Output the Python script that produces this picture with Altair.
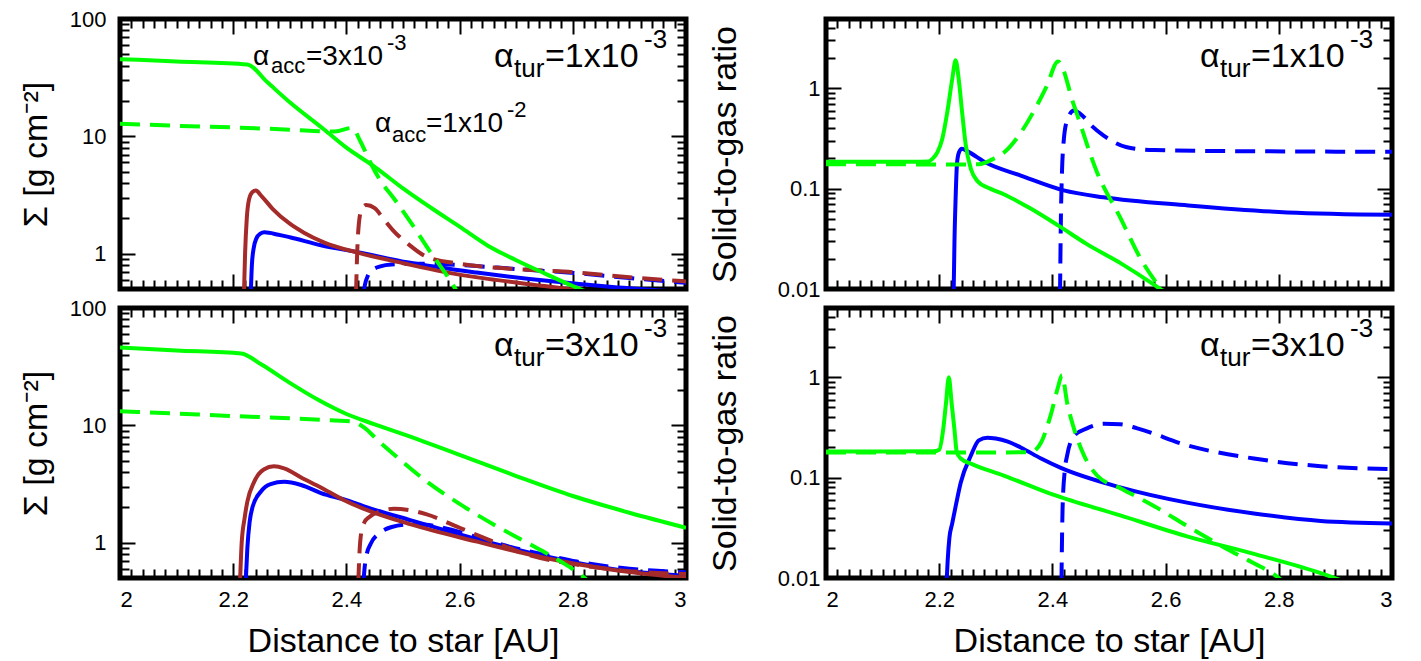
import altair as alt
import pandas as pd

# ---------------- data ----------------
# top-left: surface density, alpha_tur = 1e-3
tl_gas3_x = [2.0, 2.1, 2.225, 2.26, 2.30, 2.36, 2.40, 2.45, 2.50, 2.55, 2.60, 2.65, 2.70, 2.75, 2.80, 2.83]
tl_gas3_y = [45.5, 43.5, 41.0, 29.0, 19.5, 11.5, 8.0, 5.5, 3.6, 2.45, 1.7, 1.17, 0.88, 0.68, 0.53, 0.46]
tl_gas1_x = [2.0, 2.1, 2.2, 2.3, 2.38, 2.41, 2.425, 2.443, 2.46, 2.484, 2.514, 2.549, 2.575, 2.595]
tl_gas1_y = [12.8, 12.3, 11.9, 11.4, 11.0, 11.8, 9.0, 5.9, 4.2, 2.95, 1.84, 1.02, 0.68, 0.48]
tl_brown3_x = [2.219, 2.221, 2.224, 2.228, 2.234, 2.240, 2.25, 2.27, 2.30, 2.325, 2.36, 2.42, 2.50, 2.572, 2.65, 2.75, 2.82]
tl_brown3_y = [0.45, 1.0, 2.0, 2.9, 3.35, 3.45, 3.1, 2.4, 1.8, 1.51, 1.25, 1.02, 0.83, 0.70, 0.61, 0.53, 0.48]
tl_blue3_x = [2.231, 2.233, 2.236, 2.241, 2.248, 2.255, 2.28, 2.30, 2.355, 2.42, 2.51, 2.63, 2.75, 2.87, 3.0]
tl_blue3_y = [0.45, 0.8, 1.1, 1.35, 1.48, 1.52, 1.45, 1.38, 1.18, 1.03, 0.84, 0.69, 0.59, 0.52, 0.47]
tl_brown1_x = [2.417, 2.419, 2.422, 2.427, 2.435, 2.45, 2.465, 2.484, 2.51, 2.54, 2.60, 2.69, 2.81, 2.90, 3.0]
tl_brown1_y = [0.45, 1.0, 1.8, 2.4, 2.6, 2.45, 2.0, 1.55, 1.2, 0.95, 0.82, 0.745, 0.69, 0.63, 0.58]
tl_blue1_x = [2.430, 2.433, 2.438, 2.445, 2.46, 2.48, 2.53, 2.60, 2.70, 2.81, 2.90, 3.0]
tl_blue1_y = [0.45, 0.55, 0.65, 0.72, 0.78, 0.81, 0.82, 0.80, 0.74, 0.68, 0.62, 0.565]

# top-right: solid-to-gas ratio, alpha_tur = 1e-3
tr_green3_x = [2.0, 2.1, 2.18, 2.188, 2.197, 2.2055, 2.2143, 2.2232, 2.229, 2.235, 2.241, 2.247, 2.256, 2.267, 2.29, 2.314, 2.36, 2.41, 2.461, 2.521, 2.58, 2.60]
tr_green3_y = [0.185, 0.185, 0.186, 0.198, 0.231, 0.314, 0.579, 1.25, 1.9, 1.16, 0.54, 0.27, 0.157, 0.12, 0.1, 0.088, 0.064, 0.043, 0.028, 0.018, 0.011, 0.0092]
tr_blue3_x = [2.2255, 2.227, 2.229, 2.2315, 2.235, 2.24, 2.25, 2.284, 2.344, 2.42, 2.49, 2.64, 2.815, 3.0]
tr_blue3_y = [0.009, 0.03, 0.08, 0.18, 0.23, 0.25, 0.235, 0.18, 0.135, 0.096, 0.082, 0.068, 0.058, 0.055]
tr_green1_x = [2.0, 2.1, 2.2, 2.27, 2.297, 2.315, 2.344, 2.373, 2.39, 2.41, 2.438, 2.479, 2.521, 2.556, 2.595]
tr_green1_y = [0.175, 0.175, 0.174, 0.175, 0.2, 0.23, 0.36, 0.68, 1.05, 1.85, 0.68, 0.145, 0.05, 0.02, 0.0095]
tr_blue1_x = [2.4135, 2.415, 2.417, 2.42, 2.426, 2.438, 2.455, 2.47, 2.49, 2.53, 2.58, 2.7, 3.0]
tr_blue1_y = [0.009, 0.05, 0.15, 0.3, 0.48, 0.6, 0.52, 0.42, 0.34, 0.26, 0.242, 0.237, 0.233]

# bottom-left: surface density, alpha_tur = 3e-3
bl_gas3_x = [2.0, 2.1, 2.214, 2.25, 2.30, 2.35, 2.40, 2.45, 2.50, 2.60, 2.70, 2.80, 2.90, 3.0]
bl_gas3_y = [46.0, 43.5, 41.0, 33.0, 23.0, 16.5, 12.5, 10.2, 8.4, 5.6, 3.7, 2.5, 1.8, 1.34]
bl_gas1_x = [2.0, 2.1, 2.2, 2.3, 2.38, 2.41, 2.431, 2.455, 2.484, 2.542, 2.602, 2.66, 2.719, 2.779, 2.81, 2.83]
bl_gas1_y = [13.2, 12.6, 12.0, 11.5, 11.0, 10.8, 9.6, 7.5, 5.65, 3.32, 2.11, 1.43, 1.0, 0.69, 0.55, 0.46]
bl_brown3_x = [2.212, 2.215, 2.22, 2.225, 2.237, 2.254, 2.272, 2.29, 2.32, 2.355, 2.396, 2.43, 2.514, 2.631, 2.749, 2.867, 3.0]
bl_brown3_y = [0.45, 1.0, 1.6, 2.24, 3.3, 4.2, 4.47, 4.3, 3.6, 2.95, 2.3, 1.95, 1.43, 1.02, 0.745, 0.59, 0.50]
bl_blue3_x = [2.222, 2.225, 2.229, 2.234, 2.249, 2.266, 2.29, 2.32, 2.355, 2.40, 2.43, 2.514, 2.631, 2.749, 2.867, 3.0]
bl_blue3_y = [0.45, 0.9, 1.5, 2.0, 2.73, 3.15, 3.3, 3.1, 2.65, 2.3, 2.05, 1.55, 1.07, 0.77, 0.6, 0.52]
bl_brown1_x = [2.421, 2.423, 2.426, 2.432, 2.44, 2.46, 2.484, 2.51, 2.542, 2.6, 2.66, 2.72, 2.807, 2.925, 3.0]
bl_brown1_y = [0.45, 0.8, 1.2, 1.5, 1.65, 1.85, 1.95, 1.9, 1.74, 1.34, 1.02, 0.79, 0.65, 0.56, 0.54]
bl_blue1_x = [2.43, 2.432, 2.436, 2.443, 2.46, 2.48, 2.51, 2.54, 2.57, 2.63, 2.69, 2.75, 2.807, 2.9, 3.0]
bl_blue1_y = [0.45, 0.6, 0.8, 0.98, 1.22, 1.36, 1.43, 1.42, 1.34, 1.12, 0.92, 0.79, 0.69, 0.6, 0.56]

# bottom-right: solid-to-gas ratio, alpha_tur = 3e-3
br_green3_x = [2.0, 2.1, 2.19, 2.2, 2.207, 2.212, 2.217, 2.222, 2.227, 2.231, 2.238, 2.26, 2.314, 2.40, 2.52, 2.638, 2.756, 2.874, 2.91]
br_green3_y = [0.182, 0.182, 0.183, 0.19, 0.3, 0.55, 1.0, 0.55, 0.3, 0.18, 0.155, 0.135, 0.105, 0.068, 0.042, 0.026, 0.0174, 0.0112, 0.0095]
br_blue3_x = [2.213, 2.215, 2.218, 2.223, 2.23, 2.238, 2.256, 2.27, 2.285, 2.30, 2.32, 2.344, 2.38, 2.415, 2.52, 2.64, 2.756, 2.874, 3.0]
br_blue3_y = [0.009, 0.015, 0.025, 0.035, 0.055, 0.089, 0.166, 0.235, 0.25, 0.245, 0.23, 0.2, 0.155, 0.125, 0.08, 0.056, 0.044, 0.037, 0.035]
br_green1_x = [2.0, 2.1, 2.2, 2.3, 2.362, 2.38, 2.397, 2.41, 2.417, 2.426, 2.438, 2.456, 2.479, 2.521, 2.58, 2.638, 2.698, 2.756, 2.79, 2.805]
br_green1_y = [0.178, 0.178, 0.178, 0.178, 0.18, 0.224, 0.42, 0.8, 1.05, 0.56, 0.31, 0.166, 0.105, 0.078, 0.052, 0.033, 0.021, 0.014, 0.011, 0.0095]
br_blue1_x = [2.416, 2.418, 2.422, 2.426, 2.438, 2.461, 2.491, 2.52, 2.55, 2.638, 2.756, 2.874, 3.0]
br_blue1_y = [0.009, 0.05, 0.12, 0.166, 0.26, 0.31, 0.345, 0.34, 0.31, 0.21, 0.155, 0.13, 0.122]

# axis ticks
x_ticks = [round(2 + 0.02 * i, 2) for i in range(51)]
sigma_ticks = [0.5, 0.6, 0.7, 0.8, 0.9, 1, 2, 3, 4, 5, 6, 7, 8, 9,
               10, 20, 30, 40, 50, 60, 70, 80, 90, 100]
ratio_ticks = [0.01, 0.02, 0.03, 0.04, 0.05, 0.06, 0.07, 0.08, 0.09,
               0.1, 0.2, 0.3, 0.4, 0.5, 0.6, 0.7, 0.8, 0.9, 1, 2, 3, 4]
sigma_domain = [0.5, 100]
ratio_domain = [0.01, 4.9]

# texts
x_title = "Distance to star [AU]"
sigma_title = "Σ [g cm⁻²]"
ratio_title = "Solid-to-gas ratio"
ann_acc3 = ["α", "acc", "=3x10", "-3"]
ann_acc1 = ["α", "acc", "=1x10", "-2"]
ann_tur1 = ["α", "tur", "=1x10", "-3"]
ann_tur3 = ["α", "tur", "=3x10", "-3"]

# ---------------- styling ----------------
FONT = "Liberation Sans"
W, H = 566, 270
MAJ, MIN = 15, 9
GREEN, BLUE, BROWN = "#00ff00", "#0000ff", "#a52a2a"
DASH = [20, 10]
LW = 4

X_MAJOR_TEST = "abs(datum.value*5 - round(datum.value*5)) < 0.001"
LOG_MAJOR_TEST = "abs(log(datum.value)/LN10 - round(log(datum.value)/LN10)) < 0.001"


def dash(test, length):
    return {"condition": {"test": test, "value": [MAJ, length - 2 * MAJ, MAJ]},
            "value": [MIN, length - 2 * MIN, MIN]}


def make_axis_x(show):
    kw = dict(values=x_ticks, grid=True, ticks=False, domain=False,
              gridColor="black", gridWidth=2, gridOpacity=1,
              gridDash=dash(X_MAJOR_TEST, H))
    if show:
        kw.update(labels=True, title=x_title,
                  labelExpr="(" + X_MAJOR_TEST + ") ? '' + datum.value : ''",
                  labelPadding=11, titlePadding=14)
    else:
        kw.update(labels=False, title="")
    return alt.Axis(**kw)


def make_axis_y(ticks, title, lab_pad, title_pad):
    return alt.Axis(values=ticks, grid=True, ticks=False, domain=False,
                    gridColor="black", gridWidth=2, gridOpacity=1,
                    gridDash=dash(LOG_MAJOR_TEST, W),
                    labelExpr="(" + LOG_MAJOR_TEST + ") ? '' + datum.value : ''",
                    labelPadding=lab_pad, title=title, titlePadding=title_pad)


def annotation(parts, x0, base, main_fs, sub_fs, offs):
    (xa, xs, xm, xp), dsub, dsup = offs
    layers = []
    specs = [(parts[0], xa, base, main_fs), (parts[1], xs, base + dsub, sub_fs),
             (parts[2], xm, base, main_fs), (parts[3], xp, base + dsup, sub_fs)]
    for txt, px, py, fs in specs:
        layers.append(
            alt.Chart(pd.DataFrame({"t": [txt]}))
            .mark_text(align="left", baseline="alphabetic", font=FONT,
                       fontSize=fs, color="black")
            .encode(x=alt.value(x0 + px), y=alt.value(py), text="t:N")
        )
    return layers


def panel(series, ydomain, yticks, ytitle, show_x, lab_pad, title_pad, anns):
    xenc = alt.X("x:Q", scale=alt.Scale(domain=[2, 3], nice=False, zero=False),
                 axis=make_axis_x(show_x))
    yenc = alt.Y("y:Q", scale=alt.Scale(type="log", domain=ydomain, nice=False),
                 axis=make_axis_y(yticks, ytitle, lab_pad, title_pad))
    layers = []
    for xs, ys, color, dashed in series:
        kw = dict(color=color, strokeWidth=LW, clip=True, interpolate="monotone")
        if dashed:
            kw["strokeDash"] = DASH
        layers.append(
            alt.Chart(pd.DataFrame({"x": xs, "y": ys})).mark_line(**kw)
            .encode(x=xenc, y=yenc)
        )
    for a in anns:
        layers += a
    return alt.layer(*layers).properties(width=W, height=H)


TUR = lambda parts: annotation(parts, 374, 48, 34, 26, ((0, 20, 51, 150), 10, -19))

tl = panel([
    (tl_blue3_x, tl_blue3_y, BLUE, False),
    (tl_blue1_x, tl_blue1_y, BLUE, True),
    (tl_brown3_x, tl_brown3_y, BROWN, False),
    (tl_brown1_x, tl_brown1_y, BROWN, True),
    (tl_gas3_x, tl_gas3_y, GREEN, False),
    (tl_gas1_x, tl_gas1_y, GREEN, True),
], sigma_domain, sigma_ticks, sigma_title, False, 14, 16, [
    annotation(ann_acc3, 133, 46, 28, 22, ((0, 18, 53, 134), 8, -15)),
    annotation(ann_acc1, 255, 113, 28, 22, ((0, 17, 51, 132), 10, -15)),
    TUR(ann_tur1),
])

tr = panel([
    (tr_blue3_x, tr_blue3_y, BLUE, False),
    (tr_blue1_x, tr_blue1_y, BLUE, True),
    (tr_green3_x, tr_green3_y, GREEN, False),
    (tr_green1_x, tr_green1_y, GREEN, True),
], ratio_domain, ratio_ticks, ratio_title, False, 6, 35, [TUR(ann_tur1)])

bl = panel([
    (bl_blue3_x, bl_blue3_y, BLUE, False),
    (bl_blue1_x, bl_blue1_y, BLUE, True),
    (bl_brown3_x, bl_brown3_y, BROWN, False),
    (bl_brown1_x, bl_brown1_y, BROWN, True),
    (bl_gas3_x, bl_gas3_y, GREEN, False),
    (bl_gas1_x, bl_gas1_y, GREEN, True),
], sigma_domain, sigma_ticks, sigma_title, True, 14, 16, [TUR(ann_tur3)])

br = panel([
    (br_blue3_x, br_blue3_y, BLUE, False),
    (br_blue1_x, br_blue1_y, BLUE, True),
    (br_green3_x, br_green3_y, GREEN, False),
    (br_green1_x, br_green1_y, GREEN, True),
], ratio_domain, ratio_ticks, ratio_title, True, 6, 35, [TUR(ann_tur3)])

chart = (
    alt.concat(tl, tr, bl, br, columns=2, spacing={"row": 19, "column": 140},
               bounds="flush")
    .properties(padding={"left": 8, "top": -3, "right": 5, "bottom": 5},
                background="white")
    .configure_view(stroke="black", strokeWidth=5)
    .configure_axis(labelFont=FONT, labelFontSize=22, labelColor="black",
                    titleFont=FONT, titleFontSize=34, titleFontWeight="normal",
                    titleColor="black")
)

chart.save("out.html", embed_options={"renderer": "svg", "actions": False})
